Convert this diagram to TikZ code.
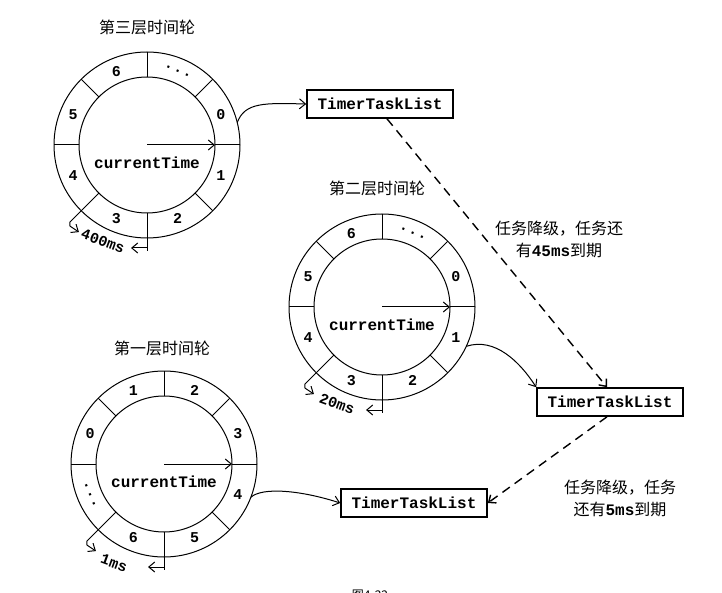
\documentclass[tikz,border=0pt]{standalone}
\usepackage{fontspec}
\setmainfont{Liberation Serif}
\setmonofont{Liberation Mono}
\newfontfamily\cjk{Noto Sans CJK SC}
\usetikzlibrary{arrows.meta}
\newcommand{\tdots}{.\kern1pt.\kern1pt.}
\tikzset{
  wl/.style={line width=1pt},
  tip/.style={-{Straight Barb[length=6pt,width=10pt]}},
  mono/.style={font=\fontsize{16}{18}\selectfont\ttfamily\bfseries},
  digit/.style={font=\fontsize{15}{17}\selectfont\ttfamily\bfseries},
  dimtext/.style={font=\fontsize{15}{17}\selectfont\ttfamily\bfseries,rotate=-20,inner sep=0pt},
  title/.style={font=\fontsize{16}{18}\selectfont\cjk},
  note/.style={font=\fontsize{16}{22}\selectfont\cjk,align=center},
  tbox/.style={draw,line width=1.6pt,minimum width=146pt,minimum height=28pt,inner sep=0pt,mono},
  dashline/.style={line width=1.4pt,dash pattern=on 9pt off 6pt},
}
% #1 prefix, #2 centre, #3 labels angle/text/rotation, #4 span text, #5 span text position
\newcommand{\twheel}[5]{%
\begin{scope}[shift={#2}]
  \coordinate (#1c) at (0,0);
  \draw[wl] (0,0) circle[radius=93];
  \draw[wl] (0,0) circle[radius=68];
  \foreach \a in {0,45,...,315} \draw[wl] (\a:68) -- (\a:93);
  \draw[wl,tip] (0,0) -- (0:68);
  \node[mono] (#1t) at (0,-18) {currentTime};
  \foreach \a/\t/\r [count=\i] in {#3}
    \node[digit,rotate=\r] (#1l\i) at (\a:80) {\t};
  \coordinate (#1e) at (225:109);
  \draw[wl] (225:93) -- (#1e) -- ++(0,-4) coordinate (#1f);
  \draw[wl,tip] (#1f) -- ++(9,-6);
  \coordinate (#1g) at (0,-106);
  \draw[wl] (270:93) -- (#1g);
  \coordinate (#1h) at (0,-103);
  \draw[wl,tip] (#1h) -- ++(-16,0);
  \node[dimtext] (#1d) at (#5) {#4};
\end{scope}}
\begin{document}
\begin{tikzpicture}[x=1pt,y=1pt]
\useasboundingbox (0,0) rectangle (722,592);
\fill[white] (0,0) rectangle (722,592);

% third level wheel
\node[title] (t3) at (147,565) {第三层时间轮};
\twheel{w3}{(147,447)}{22.5/0/0, 67.5/\tdots/-22.5, 112.5/6/0, 157.5/5/0, 202.5/4/0, 247.5/3/0, 292.5/2/0, 337.5/1/0}{400ms}{-44,-96}

% second level wheel
\node[title] (t2) at (377,404) {第二层时间轮};
\twheel{w2}{(382,285)}{22.5/0/0, 67.5/\tdots/-22.5, 112.5/6/0, 157.5/5/0, 202.5/4/0, 247.5/3/0, 292.5/2/0, 337.5/1/0}{20ms}{-45,-97}

% first level wheel
\node[title] (t1) at (162,244) {第一层时间轮};
\twheel{w1}{(164,128)}{22.5/3/0, 67.5/2/0, 112.5/1/0, 157.5/0/0, 202.5/\tdots/112.5, 247.5/6/0, 292.5/5/0, 337.5/4/0}{1ms}{-50,-99}

% task lists
\node[tbox] (b1) at (380,488) {TimerTaskList};
\node[tbox] (b2) at (610,190) {TimerTaskList};
\node[tbox] (b3) at (414,89) {TimerTaskList};

% connectors
\draw[wl,tip] ([shift={(14:93)}]w3c) .. controls (245,490) and (265,489) .. (b1.west);
\draw[wl,tip] ([shift={(-25:93)}]w2c) .. controls (495,255) and (520,230) .. (b2.north west);
\draw[wl,tip] ([shift={(-21:93)}]w1c) .. controls (262,105) and (300,102) .. (b3.west);
\draw[dashline,tip] ([xshift=7pt]b1.south) -- ([xshift=-3pt]b2.north);
\draw[dashline,tip] ([xshift=-3pt]b2.south) -- (b3.east);

% notes
\node[note] (n1) at (559,353) {任务降级，任务还\\有\textbf{\ttfamily 45ms}到期};
\node[note] (n2) at (620,94) {任务降级，任务\\还有\textbf{\ttfamily 5ms}到期};

% caption (cut by the lower edge)
\node[font=\fontsize{12}{14}\selectfont\cjk] (cap) at (370,-3) {图4-22};
\end{tikzpicture}
\end{document}
